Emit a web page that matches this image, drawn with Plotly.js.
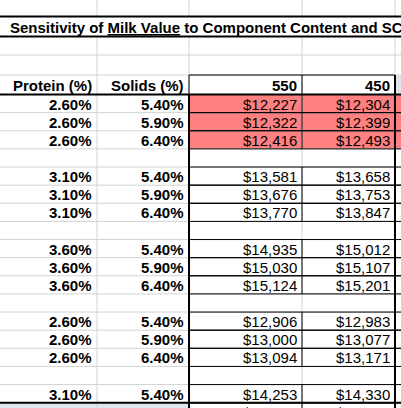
<!DOCTYPE html>
<html>
<head>
<meta charset="utf-8">
<script src="https://cdn.plot.ly/plotly-3.0.1.min.js"></script>
<style>
html,body{margin:0;padding:0;overflow:hidden;background:#fff;}
#chart{width:401px;height:420px;}
</style>
</head>
<body>
<div id="chart"></div>
<script>
// ---- data ----
const titleText = 'Sensitivity of <u>Milk Value</u> to Component Content and SCC';
const rowHeaders = ['Protein (%)', 'Solids (%)'];
const colHeaders = ['550', '450'];
const proteinPct = ['2.60%','2.60%','2.60%',null,'3.10%','3.10%','3.10%',null,'3.60%','3.60%','3.60%',null,'2.60%','2.60%','2.60%',null,'3.10%','3.10%'];
const solidsPct  = ['5.40%','5.90%','6.40%',null,'5.40%','5.90%','6.40%',null,'5.40%','5.90%','6.40%',null,'5.40%','5.90%','6.40%',null,'5.40%','5.90%'];
const value550 = [12227,12322,12416,null,13581,13676,13770,null,14935,15030,15124,null,12906,13000,13094,null,14253,14347];
const value450 = [12304,12399,12493,null,13658,13753,13847,null,15012,15107,15201,null,12983,13077,13171,null,14330,14424];
const highlighted = [true,true,true,false,false,false,false,false,false,false,false,false,false,false,false,false,false,false];

// ---- layout geometry ----
const W = 401, H = 420;
const colEdges = [-20, 97, 189, 302, 395, 490];
const topEdges = [0, 16.5, 36.5, 55, 75, 94.5];
const dataTop = 94.5, rowH = (402.7 - 94.5) / 17;
const rowTop = i => dataTop + i * rowH;
const rowMid = i => dataTop + (i + 0.5) * rowH;

const GREY = '#d3d3d3', BLACK = '#000', PINK = '#ff8080', BLUE = '#dfe5ef';
const fontBase = {family: 'Liberation Sans, Arial, sans-serif', size: 15, color: '#000'};

const shapes = [];
const line = (x0, y0, x1, y1, color, width) => shapes.push({type: 'line', xref: 'x', yref: 'y', x0, y0, x1, y1, line: {color, width}});
const rect = (x0, y0, x1, y1, fill) => shapes.push({type: 'rect', xref: 'x', yref: 'y', x0, y0, x1, y1, fillcolor: fill, line: {width: 0}});

// fills
highlighted.forEach((h, i) => {
  if (h) rect(colEdges[2], rowTop(i), colEdges[5], rowTop(i + 1), PINK);
});
rect(colEdges[4], topEdges[4], colEdges[5], topEdges[5], BLUE);
rect(colEdges[0], rowTop(17), colEdges[2], H, BLUE);

// grey grid
[55, 75].forEach(y => line(-20, y, 450, y, GREY, 1));
for (let i = 1; i <= 18; i++) line(-20, rowTop(i), 450, rowTop(i), GREY, 1);
colEdges.slice(1, 5).forEach(x => line(x, 0, x, H, GREY, 1));

// title row (merged)
rect(-20, topEdges[1], 450, topEdges[2], '#fff');

// black borders
line(-20, topEdges[1], 450, topEdges[1], BLACK, 2);
line(-20, topEdges[2], 450, topEdges[2], BLACK, 2);
line(colEdges[2], topEdges[4], colEdges[4], topEdges[4], BLACK, 1);
line(colEdges[2], topEdges[4], colEdges[2], topEdges[5], BLACK, 1);
line(colEdges[3], topEdges[4], colEdges[3], topEdges[5], BLACK, 1);
value550.forEach((v, i) => {
  if (v === null) return;
  line(colEdges[2], rowTop(i), 450, rowTop(i), BLACK, 1);
  line(colEdges[2], rowTop(i + 1), 450, rowTop(i + 1), BLACK, 1);
  line(colEdges[3], rowTop(i), colEdges[3], rowTop(i + 1), BLACK, 1);
});
line(-20, topEdges[5], 450, topEdges[5], BLACK, 2);
line(-20, rowTop(17), 450, rowTop(17), BLACK, 2);
line(colEdges[2], topEdges[5], colEdges[2], H, BLACK, 2);
line(colEdges[4], topEdges[4], colEdges[4], H, BLACK, 2);

// text
const annotations = [];
const pad = 3.5;
const addText = (text, colIdx, y, bold) => annotations.push({
  xref: 'x', yref: 'y', x: colEdges[colIdx] - pad, y: y, xanchor: 'right', yanchor: 'middle',
  text: bold ? '<b>' + text + '</b>' : text, showarrow: false, font: fontBase
});
annotations.push({xref: 'x', yref: 'y', x: 8, y: (topEdges[1] + topEdges[2]) / 2 + 0.5, xanchor: 'left', yanchor: 'middle',
  text: '<b>' + titleText + '</b>', showarrow: false, font: fontBase});
const hy = (topEdges[4] + topEdges[5]) / 2 + 0.5;
addText(rowHeaders[0], 1, hy, true);
addText(rowHeaders[1], 2, hy, true);
addText(colHeaders[0], 3, hy, true);
addText(colHeaders[1], 4, hy, true);
const money = v => '$' + v.toLocaleString('en-US');
proteinPct.forEach((p, i) => {
  if (p === null) return;
  const y = rowMid(i) + 0.5;
  addText(p, 1, y, true);
  addText(solidsPct[i], 2, y, true);
  addText(money(value550[i]), 3, y, false);
  addText(money(value450[i]), 4, y, false);
});

Plotly.newPlot('chart', [], {
  width: W, height: H,
  margin: {l: 0, r: 0, t: 0, b: 0},
  paper_bgcolor: '#fff', plot_bgcolor: '#fff',
  xaxis: {range: [0, W], visible: false, fixedrange: true},
  yaxis: {range: [H, 0], visible: false, fixedrange: true},
  shapes: shapes,
  annotations: annotations,
  showlegend: false
}, {staticPlot: true, displayModeBar: false});
</script>
</body>
</html>
